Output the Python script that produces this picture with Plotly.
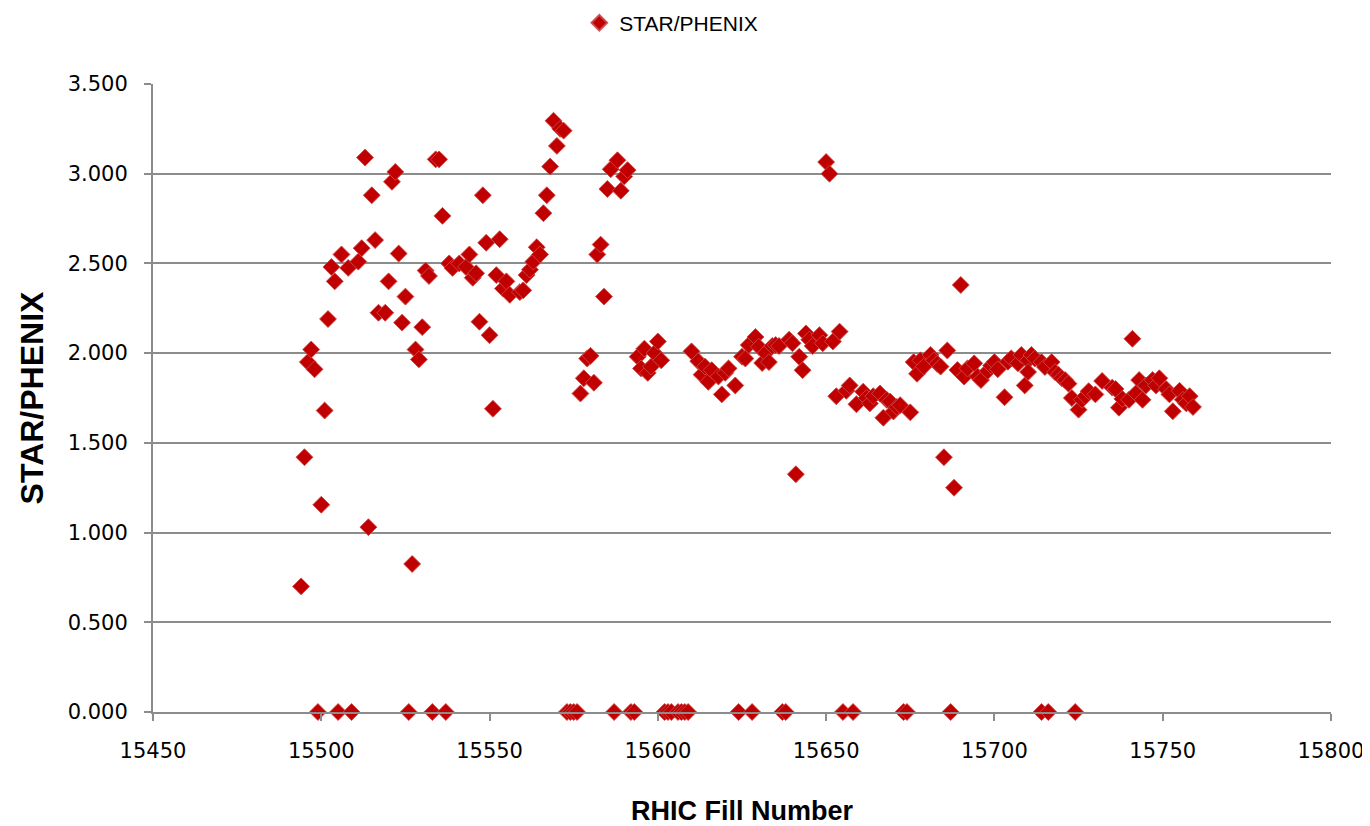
import plotly.graph_objects as go

# RHIC fill numbers with a measured STAR/PHENIX ratio
fill_numbers = [
    15494, 15495, 15496, 15497, 15498, 15500, 15501, 15502, 15503, 15504,
    15506, 15508, 15511, 15512, 15513, 15514, 15515, 15516, 15517, 15519,
    15520, 15521, 15522, 15523, 15524, 15525, 15527, 15528, 15529, 15530,
    15531, 15532, 15534, 15535, 15536, 15538, 15539, 15541, 15543, 15544,
    15545, 15546, 15547, 15548, 15549, 15550, 15551, 15552, 15553, 15554,
    15555, 15556, 15559, 15560, 15561, 15562, 15563, 15564, 15565, 15566,
    15567, 15568, 15569, 15570, 15571, 15572, 15577, 15578, 15579, 15580,
    15581, 15582, 15583, 15584, 15585, 15586, 15588, 15589, 15590, 15591,
    15594, 15595, 15596, 15597, 15598, 15599, 15600, 15601, 15610, 15612,
    15613, 15614, 15615, 15616, 15618, 15619, 15620, 15621, 15623, 15625,
    15626, 15627, 15629, 15630, 15631, 15632, 15633, 15634, 15635, 15636,
    15639, 15640, 15641, 15642, 15643, 15644, 15645, 15646, 15648, 15649,
    15650, 15651, 15652, 15653, 15654, 15656, 15657, 15659, 15661, 15662,
    15663, 15664, 15666, 15667, 15668, 15669, 15670, 15671, 15672, 15675,
    15676, 15677, 15678, 15679, 15681, 15682, 15683, 15684, 15685, 15686,
    15688, 15689, 15690, 15691, 15692, 15694, 15695, 15696, 15698, 15699,
    15700, 15701, 15703, 15704, 15705, 15707, 15708, 15709, 15710, 15710,
    15711, 15712, 15714, 15715, 15717, 15718, 15719, 15720, 15721, 15722,
    15723, 15725, 15726, 15727, 15728, 15730, 15732, 15735, 15736, 15737,
    15738, 15740, 15741, 15742, 15743, 15744, 15745, 15747, 15748, 15749,
    15751, 15752, 15753, 15755, 15756, 15757, 15758, 15759,
]

star_phenix = [
    0.700, 1.420, 1.950, 2.020, 1.910, 1.155, 1.680, 2.190, 2.480, 2.400,
    2.550, 2.475, 2.510, 2.585, 3.090, 1.030, 2.880, 2.630, 2.225, 2.225,
    2.400, 2.955, 3.010, 2.555, 2.170, 2.315, 0.825, 2.020, 1.965, 2.145,
    2.460, 2.430, 3.080, 3.080, 2.765, 2.500, 2.475, 2.500, 2.480, 2.550,
    2.420, 2.445, 2.175, 2.880, 2.615, 2.100, 1.690, 2.435, 2.635, 2.360,
    2.400, 2.325, 2.340, 2.350, 2.435, 2.465, 2.510, 2.590, 2.550, 2.780,
    2.880, 3.040, 3.295, 3.155, 3.250, 3.240, 1.775, 1.860, 1.970, 1.985,
    1.835, 2.550, 2.605, 2.315, 2.915, 3.025, 3.075, 2.905, 2.985, 3.020,
    1.980, 1.915, 2.025, 1.890, 1.925, 2.000, 2.065, 1.960, 2.010, 1.955,
    1.880, 1.925, 1.840, 1.905, 1.870, 1.770, 1.890, 1.915, 1.820, 1.980,
    1.970, 2.045, 2.090, 2.035, 1.945, 2.000, 1.950, 2.040, 2.045, 2.040,
    2.075, 2.055, 1.325, 1.980, 1.905, 2.110, 2.075, 2.040, 2.100, 2.055,
    3.065, 3.000, 2.065, 1.760, 2.120, 1.790, 1.820, 1.715, 1.785, 1.750,
    1.720, 1.760, 1.775, 1.640, 1.740, 1.730, 1.675, 1.700, 1.710, 1.670,
    1.950, 1.885, 1.960, 1.925, 1.990, 1.960, 1.940, 1.925, 1.420, 2.015,
    1.250, 1.906, 2.380, 1.869, 1.915, 1.943, 1.870, 1.850, 1.900, 1.930,
    1.950, 1.910, 1.754, 1.952, 1.971, 1.943, 1.990, 1.820, 1.960, 1.895,
    1.990, 1.970, 1.950, 1.923, 1.950, 1.894, 1.880, 1.860, 1.850, 1.830,
    1.750, 1.685, 1.740, 1.760, 1.788, 1.770, 1.845, 1.808, 1.800, 1.696,
    1.745, 1.740, 2.080, 1.776, 1.850, 1.740, 1.820, 1.850, 1.820, 1.860,
    1.800, 1.770, 1.676, 1.790, 1.740, 1.720, 1.760, 1.700,
]

# Fills where the ratio was recorded as zero
zero_fill_numbers = [
    15499, 15505, 15509, 15526, 15533, 15537, 15573, 15574, 15575, 15576,
    15587, 15592, 15593, 15602, 15603, 15604, 15606, 15607, 15608, 15609,
    15624, 15628, 15637, 15638, 15655, 15658, 15673, 15674, 15687, 15714,
    15716, 15724,
]
zero_ratios = [
    0.0, 0.0, 0.0, 0.0, 0.0, 0.0, 0.0, 0.0, 0.0, 0.0,
    0.0, 0.0, 0.0, 0.0, 0.0, 0.0, 0.0, 0.0, 0.0, 0.0,
    0.0, 0.0, 0.0, 0.0, 0.0, 0.0, 0.0, 0.0, 0.0, 0.0,
    0.0, 0.0,
]

y_tick_values = [0.0, 0.5, 1.0, 1.5, 2.0, 2.5, 3.0, 3.5]
x_tick_values = [15450, 15500, 15550, 15600, 15650, 15700, 15750, 15800]

all_x = fill_numbers + zero_fill_numbers
all_y = star_phenix + zero_ratios

fig = go.Figure()
fig.add_trace(go.Scatter(
    x=all_x, y=all_y, mode="markers", name="STAR/PHENIX",
    marker=dict(symbol="diamond", size=13, color="#C00000",
                line=dict(color="rgba(205,70,70,0.9)", width=1)),
    cliponaxis=False,
))

grid_col = "#8C8C8C"
# The page body has an 8px default margin, so the figure is sized to fit the window.
fig.update_layout(
    width=1362, height=818,
    paper_bgcolor="white", plot_bgcolor="white",
    margin=dict(l=145, r=39, t=76, b=114, autoexpand=False),
    showlegend=True,
    legend=dict(orientation="h", x=0.44, xanchor="center", y=1.097, yanchor="middle",
                font=dict(family="Liberation Sans, Arial, sans-serif", size=21, color="#000000"),
                itemsizing="constant", itemwidth=30),
    xaxis=dict(
        range=[15450, 15800], tickvals=x_tick_values,
        ticktext=[str(v) for v in x_tick_values],
        automargin=False,
        showgrid=False, zeroline=False,
        showline=True, linecolor=grid_col, linewidth=2,
        ticks="outside", ticklen=7, tickwidth=2, tickcolor=grid_col,
        ticklabelstandoff=12,
        tickfont=dict(family="DejaVu Sans, sans-serif", size=21, color="#000000"),
        title=dict(text="<b>RHIC Fill Number</b>", standoff=44,
                   font=dict(family="Liberation Sans, Arial, sans-serif", size=27, color="#000000")),
    ),
    yaxis=dict(
        range=[0, 3.5], tickvals=y_tick_values,
        ticktext=[f"{v:.3f}" for v in y_tick_values],
        automargin=False,
        showgrid=True, gridcolor=grid_col, gridwidth=2,
        zeroline=False,
        showline=True, linecolor=grid_col, linewidth=2,
        ticks="outside", ticklen=7, tickwidth=2, tickcolor=grid_col,
        ticklabelstandoff=12,
        tickfont=dict(family="DejaVu Sans, sans-serif", size=21, color="#000000"),
        title=dict(text="<b>STAR/PHENIX</b>", standoff=14,
                   font=dict(family="Liberation Sans, Arial, sans-serif", size=32, color="#000000")),
    ),
)

fig.write_html("out.html")
